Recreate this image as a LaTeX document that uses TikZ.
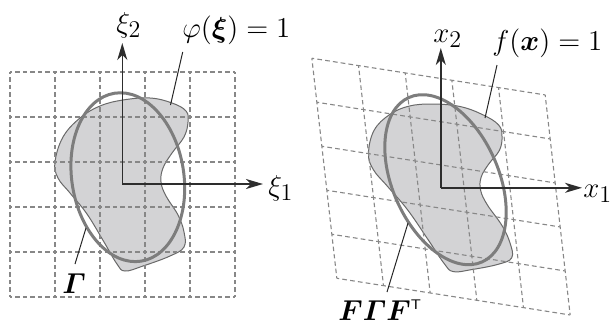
\documentclass[tikz,border=0pt]{standalone}
\usepackage{amsmath}
\usepackage{bm}
\usetikzlibrary{arrows.meta}
\renewcommand\defaultscriptratio{.82}
\definecolor{blobfill}{RGB}{211,211,213}
\definecolor{blobedge}{RGB}{105,105,105}
\definecolor{ellcol}{RGB}{125,125,125}
\definecolor{gridcol}{RGB}{135,135,135}
\definecolor{axiscol}{RGB}{45,45,45}
\newcommand\drawblob{%
  \filldraw[blob] plot[smooth cycle, tension=0.65] coordinates {
    (-67.5,-22.5) (-59.5,-47.5) (-42.5,-66.5) (-22.5,-78.5) (0.5,-84.5)
    (27.5,-86.5) (49.5,-81.5) (63.5,-73.5) (65.5,-62.5) (61.5,-47.5)
    (49.5,-31.5) (40.5,-16.5) (38.5,-2.5) (43.5,11.5) (55.5,30.5)
    (61.5,47.5) (61.5,62.5) (47.5,71.5) (20.5,81.5) (2.5,86.5)
    (-5.5,79.5) (-18.5,57.5) (-35.5,29.5) (-52.5,8.5) (-64.5,-6.5)};}
\newcommand\drawgrid[2]{%
  \foreach \t in {-112.5,-67.5,-22.5,22.5,67.5,112.5} {
    \draw[gridline, #1] (-112.5,\t) -- (112.5,\t);
    \draw[gridline, #2] (\t,-112.5) -- (\t,112.5);
  }}
\begin{document}
\begin{tikzpicture}[x=0.5pt, y=-0.5pt,
  blob/.style={fill=blobfill, draw=blobedge, line width=0.5pt},
  gridline/.style={draw=gridcol, line width=0.55pt},
  hdash/.style={dash pattern=on 2.25pt off 1.5pt, dash phase=1.125pt},
  ell/.style={draw=ellcol, line width=1.5pt},
  axis/.style={draw=axiscol, line width=0.75pt, -{Stealth[length=8.5pt, width=5pt, inset=2.5pt]}},
  leader/.style={draw=black!85, line width=0.5pt},
  lbl/.style={font=\fontsize{14}{16}\selectfont, inner sep=0pt, anchor=base west}]
\useasboundingbox (0,0) rectangle (613,327);
% ---------- left panel ----------
\begin{scope}[shift={(122.5,184.5)}]
  \drawblob
  \drawgrid{hdash}{hdash}
\end{scope}
\draw[ell, rotate around={9:(127.8,177.2)}] (127.8,177.2) ellipse [x radius=28pt, y radius=42.5pt];
\coordinate (OL) at (122.3,184);
\coordinate (YL) at (122.3,43);
\coordinate (XL) at (263,184);
\draw[axis] (OL) -- (YL);
\draw[axis] (OL) -- (XL);
\node[lbl] (xi2) at (116,32) {$\xi_2$};
\node[lbl] (xi1) at (268,195) {$\xi_1$};
\node[lbl] (phi) at (182,37) {$\varphi(\bm{\xi}) = 1$};
\node[lbl] (gam) at (62,293) {$\bm{\varGamma}$};
\coordinate (phiA) at (170.5,105);
\coordinate (phiB) at (182.7,52);
\draw[leader] (phiA) -- (phiB);
\coordinate (gamA) at (86,228);
\coordinate (gamB) at (75,264);
\draw[leader] (gamA) -- (gamB);
% ---------- right panel ----------
\begin{scope}[shift={(441,186.6)}, cm={1.037,-0.163,-0.111,0.978,(0,0)}]
  \drawblob
  \drawgrid{dash pattern=on 2.36pt off 1.58pt, dash phase=1.18pt}{dash pattern=on 2.21pt off 1.48pt, dash phase=1.105pt}
\end{scope}
\draw[ell, rotate around={24:(445.5,179.7)}] (445.5,179.7) ellipse [x radius=26.5pt, y radius=45pt];
\coordinate (OR) at (440.8,187.8);
\coordinate (YR) at (440.8,48);
\coordinate (XR) at (582,187.8);
\draw[axis] (OR) -- (YR);
\draw[axis] (OR) -- (XR);
\node[lbl] (x2) at (433,42) {$x_2$};
\node[lbl] (x1) at (583,197) {$x_1$};
\node[lbl] (fx) at (492,50) {$f(\bm{x}) = 1$};
\node[lbl] (fgf) at (338,320) {$\bm{F\varGamma F}^{\scriptscriptstyle\mathsf{T}}$};
\coordinate (fxA) at (485,118);
\coordinate (fxB) at (497,65);
\draw[leader] (fxA) -- (fxB);
\coordinate (fgfA) at (408,223);
\coordinate (fgfB) at (387,292);
\draw[leader] (fgfA) -- (fgfB);
\end{tikzpicture}
\end{document}
